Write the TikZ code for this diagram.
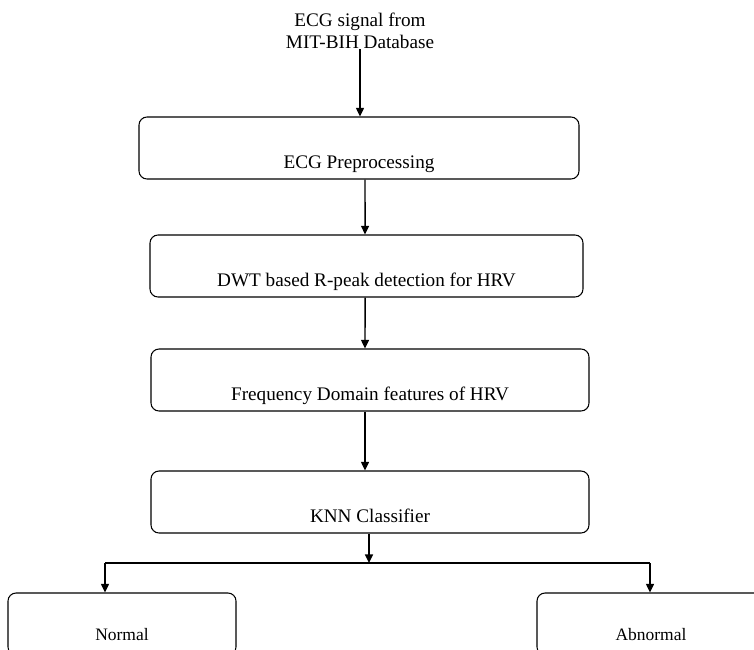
\documentclass[tikz,border=0pt]{standalone}
\usepackage{fontspec}
\setmainfont{Liberation Serif}
\usetikzlibrary{arrows.meta}
\begin{document}
\begin{tikzpicture}[x=0.75pt,y=-0.75pt,
  stage/.style={draw,rounded corners=6pt,line width=0.8pt,minimum height=46.5pt,
    text height=30pt,text depth=0pt,font=\fontsize{14.4}{16.5}\selectfont},
  outcome/.style={stage,minimum width=171pt,text height=24pt,font=\fontsize{13.1}{15}\selectfont},
  arr/.style={-{Triangle[length=6.5pt,width=6pt]},line width=1.1pt}]
  \useasboundingbox (0,0) rectangle (754,650);
  \clip (0,0) rectangle (754,650);
  % input and processing chain
  \node[align=center,anchor=north,inner sep=0pt,font=\fontsize{14.4}{16.5}\selectfont] (src) at (360,13) {ECG signal from\\MIT-BIH Database};
  \node[stage,minimum width=330pt] (pre) at (359,148) {ECG Preprocessing};
  \node[stage,minimum width=324.75pt] (dwt) at (366.5,266) {DWT based R-peak detection for HRV};
  \node[stage,minimum width=328.5pt] (freq) at (370,380) {Frequency Domain features of HRV};
  \node[stage,minimum width=328.5pt] (knn) at (370,502) {KNN Classifier};
  % outputs
  \node[outcome] (normal) at (122,624) {Normal};
  \node[outcome] (abnormal) at (651,624) {Abnormal};
  \coordinate (jl) at (105,563);
  \coordinate (jc) at (369,563);
  \coordinate (jr) at (650,563);
  \draw[arr] (src) -- (src |- pre.north);
  \draw[arr] ([xshift=4.5pt]pre.south) -- ([xshift=-1.1pt]dwt.north);
  \draw[arr] ([xshift=-1.1pt]dwt.south) -- ([xshift=-3.75pt]freq.north);
  \draw[arr] ([xshift=-3.75pt]freq.south) -- ([xshift=-3.75pt]knn.north);
  \draw[line width=1.9pt] (jl) -- (jr);
  \draw[arr] (knn.south -| jc) -- (jc);
  \draw[arr] (jl) -- (jl |- normal.north);
  \draw[arr] (jr) -- (jr |- abnormal.north);
\end{tikzpicture}
\end{document}
